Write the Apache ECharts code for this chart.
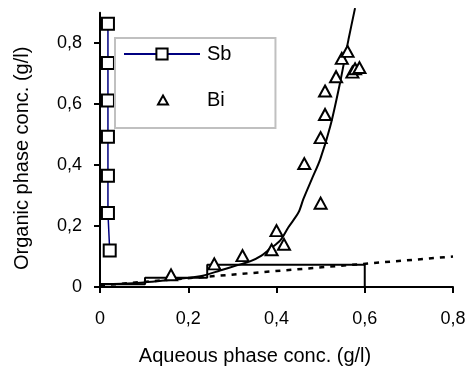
<!DOCTYPE html>
<html>
<head>
<meta charset="utf-8">
<script src="https://cdn.jsdelivr.net/npm/echarts@6/dist/echarts.min.js"></script>
<style>html,body{margin:0;padding:0;background:#fff;}#c{width:471px;height:371px;}</style>
</head>
<body>
<div id="c"></div>
<script>
// Sb series
var sbX = [0.022, 0.018, 0.018, 0.018, 0.018, 0.018, 0.018];
var sbY = [0.12, 0.243, 0.365, 0.493, 0.612, 0.735, 0.864];
// Bi series (triangles)
var biX = [0.161, 0.259, 0.323, 0.389, 0.400, 0.417, 0.463, 0.500, 0.500, 0.510, 0.510, 0.535, 0.548, 0.561, 0.572, 0.578, 0.588];
var biY = [0.040, 0.076, 0.103, 0.122, 0.185, 0.140, 0.405, 0.275, 0.490, 0.566, 0.643, 0.690, 0.750, 0.773, 0.705, 0.716, 0.720];
// Equilibrium curve (solid)
var curveX = [0.0, 0.05, 0.10, 0.15, 0.20, 0.227, 0.272, 0.310, 0.340, 0.366, 0.385, 0.408, 0.427, 0.450, 0.461, 0.480, 0.499, 0.522, 0.544, 0.563, 0.578];
var curveY = [0.010, 0.011, 0.015, 0.022, 0.030, 0.035, 0.054, 0.071, 0.084, 0.103, 0.125, 0.152, 0.196, 0.245, 0.289, 0.354, 0.419, 0.528, 0.670, 0.811, 0.915];
// Operating line (dashed)
var opX = [0.0, 0.8];
var opY = [0.005, 0.100];
// Stage steps
var stepX = [0.6, 0.6, 0.243, 0.243, 0.102, 0.102, 0.0];
var stepY = [0.0, 0.073, 0.073, 0.030, 0.030, 0.009, 0.009];
// Ticks
var xTicks = [0, 0.2, 0.4, 0.6, 0.8];
var yTicks = [0, 0.2, 0.4, 0.6, 0.8];

function zip(a, b) { return a.map(function (v, i) { return [v, b[i]]; }); }
function fmt(v) { return v === 0 ? '0' : String(Math.round(v * 10) / 10).replace('.', ','); }

var FONT = '"Liberation Sans", Arial, sans-serif';
var chart = echarts.init(document.getElementById('c'), null, { renderer: 'canvas' });
chart.setOption({
  animation: false,
  backgroundColor: '#fff',
  grid: { left: 100, right: 18, top: 12.7, bottom: 82.7, containLabel: false },
  xAxis: {
    type: 'value', min: 0, max: 0.8, interval: 0.2,
    name: 'Aqueous phase conc. (g/l)', nameLocation: 'middle', nameGap: 59,
    nameTextStyle: { fontFamily: FONT, fontSize: 20, color: '#000', padding: [0, 43, 0, 0] },
    axisLine: { show: true, onZero: false, lineStyle: { color: '#000', width: 2 } },
    axisTick: { show: true, length: 6, lineStyle: { color: '#000', width: 2 }, customValues: xTicks },
    axisLabel: { margin: 23, fontFamily: FONT, fontSize: 18, color: '#000', customValues: xTicks, formatter: fmt },
    splitLine: { show: false }
  },
  yAxis: {
    type: 'value', min: 0, max: 0.9,
    name: 'Organic phase conc. (g/l)', nameLocation: 'middle', nameGap: 68,
    nameTextStyle: { fontFamily: FONT, fontSize: 20, color: '#000', padding: [0, 17, 0, 0] },
    axisLine: { show: true, onZero: false, lineStyle: { color: '#000', width: 2 } },
    axisTick: { show: true, length: 6, lineStyle: { color: '#000', width: 2 }, customValues: yTicks },
    axisLabel: { margin: 18, fontFamily: FONT, fontSize: 18, color: '#000', customValues: yTicks, formatter: fmt },
    splitLine: { show: false }
  },
  legend: [
    {
      data: ['Sb'], orient: 'vertical', left: 115, top: 38,
      padding: [6, 44, 64, 8], itemWidth: 76, itemHeight: 14,
      backgroundColor: '#fff', borderColor: '#c0c0c0', borderWidth: 2, borderRadius: 0,
      textStyle: { fontFamily: FONT, fontSize: 20, color: '#000', padding: [0, 0, 0, 2] },
      z: 10
    },
    {
      data: ['Bi'], orient: 'vertical', left: 157, top: 90,
      padding: 0, itemWidth: 10, itemHeight: 9,
      backgroundColor: 'transparent', borderWidth: 0,
      itemStyle: { color: '#fff', borderColor: '#000', borderWidth: 2, opacity: 1 },
      textStyle: { fontFamily: FONT, fontSize: 20, color: '#000', padding: [0, 0, 0, 34] },
      z: 11
    }
  ],
  series: [
    {
      name: 'Stages', type: 'line', data: zip(stepX, stepY), symbol: 'none',
      lineStyle: { color: '#000', width: 2 }, z: 2, silent: true
    },
    {
      name: 'Operating', type: 'line', data: zip(opX, opY), symbol: 'none',
      lineStyle: { color: '#000', width: 2.5, type: [5, 6] }, z: 2, silent: true
    },
    {
      name: 'Equilibrium', type: 'line', data: zip(curveX, curveY), symbol: 'none', smooth: 0.3,
      clip: false, lineStyle: { color: '#000', width: 2 }, z: 3, silent: true
    },
    {
      name: 'Sb', type: 'line', data: zip(sbX, sbY), symbol: 'rect', symbolSize: 12, showAllSymbol: true,
      lineStyle: { color: '#000080', width: 1.5 },
      itemStyle: { color: '#fff', borderColor: '#000', borderWidth: 2 }, z: 4
    },
    {
      name: 'Bi', type: 'scatter', data: zip(biX, biY), symbol: 'triangle', symbolSize: [12, 11],
      itemStyle: { color: '#fff', borderColor: '#000', borderWidth: 2, opacity: 1 }, z: 5
    }
  ]
});
</script>
</body>
</html>
